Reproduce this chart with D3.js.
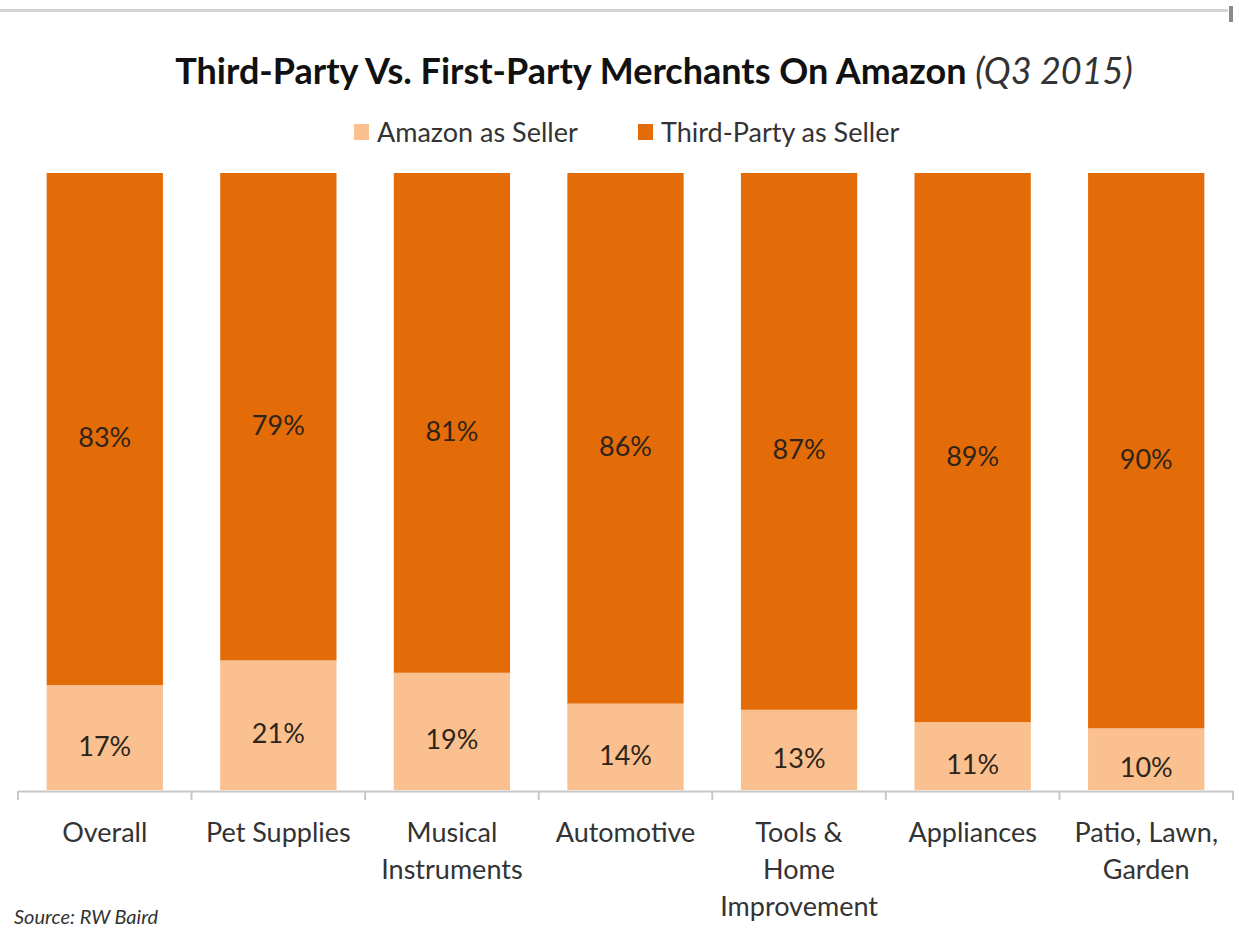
<!DOCTYPE html>
<html>
<head>
<meta charset="utf-8">
<script src="https://cdn.jsdelivr.net/npm/d3@7"></script>
<style>
  html, body { margin: 0; padding: 0; background: #ffffff; }
  svg { display: block; }
</style>
</head>
<body>
<svg id="chart" width="1239" height="936"></svg>
<script>
const categories = ["Overall", "Pet Supplies", "Musical\nInstruments", "Automotive", "Tools &\nHome\nImprovement", "Appliances", "Patio, Lawn,\nGarden"];
const amazonSeller = [17, 21, 19, 14, 13, 11, 10];
const thirdPartySeller = [83, 79, 81, 86, 87, 89, 90];
const seriesNames = ["Amazon as Seller", "Third-Party as Seller"];
const colors = ["#FAC090", "#E36C09"];

const W = 1239, H = 936;
const svg = d3.select("#chart");
const FONT = "Lato, 'Open Sans', sans-serif";

// top frame line
svg.append("rect").attr("x", 0).attr("y", 9).attr("width", 1228).attr("height", 3).attr("fill", "#d4d4d4");
svg.append("rect").attr("x", 1229).attr("y", 6).attr("width", 4).attr("height", 16).attr("fill", "#8a8a8a");

const data = categories.map((c, i) => ({ cat: c, a: amazonSeller[i], t: thirdPartySeller[i] }));

const x = d3.scaleBand().domain(categories).range([18, 1233]).paddingInner(0.33).paddingOuter(0.165);
const y = d3.scaleLinear().domain([0, 100]).range([790, 173]);

const stack = d3.stack().keys(["a", "t"]);
const stacked = stack(data);

const g = svg.append("g");
stacked.forEach((layer, li) => {
  g.append("g").selectAll("rect").data(layer).join("rect")
    .attr("x", d => x(d.data.cat))
    .attr("width", x.bandwidth())
    .attr("y", d => y(d[1]))
    .attr("height", d => y(d[0]) - y(d[1]))
    .attr("fill", colors[li]);
  g.append("g").selectAll("text").data(layer).join("text")
    .attr("x", d => x(d.data.cat) + x.bandwidth() / 2)
    .attr("y", d => (y(d[0]) + y(d[1])) / 2 + 18)
    .attr("text-anchor", "middle")
    .attr("font-family", FONT)
    .attr("font-size", 27)
    .attr("fill", "#2e2419")
    .text(d => Math.round(d[1] - d[0]) + "%");
});

// axis
const axisY = 791;
const axis = d3.axisBottom(x).tickSize(0).tickFormat("");
const axG = svg.append("g").attr("transform", `translate(0,${axisY})`).call(axis);
axG.select(".domain").attr("stroke", "#c8c8c8").attr("stroke-width", 2);
const step = x.step();
const bounds = d3.range(categories.length + 1).map(i => x.range()[0] + i * step);
axG.selectAll(".bound").data(bounds).join("line")
  .attr("class", "bound")
  .attr("x1", d => d).attr("x2", d => d)
  .attr("y1", 0).attr("y2", 9)
  .attr("stroke", "#c8c8c8").attr("stroke-width", 2);

axG.selectAll(".tick").each(function(c) {
  const t = d3.select(this).append("text")
    .attr("text-anchor", "middle")
    .attr("font-family", FONT)
    .attr("font-size", 27)
    .attr("fill", "#333333");
  c.split("\n").forEach((line, i) => {
    t.append("tspan").attr("x", 0).attr("y", 51 + i * 37).text(line);
  });
});

// title
const title = svg.append("text")
  .attr("x", 654).attr("y", 84)
  .attr("text-anchor", "middle")
  .attr("font-family", FONT)
  .attr("font-size", 36)
  .attr("fill", "#111111");
title.append("tspan").attr("font-weight", "bold").text("Third-Party Vs. First-Party Merchants On Amazon ");
title.append("tspan").attr("font-style", "italic").attr("fill", "#333").text("(Q3 2015)");

// legend
const legend = svg.append("g").attr("font-family", FONT).attr("font-size", 27).attr("fill", "#333");
const legendX = [354, 638];
seriesNames.forEach((n, i) => {
  legend.append("rect").attr("x", legendX[i]).attr("y", 124).attr("width", 15).attr("height", 16).attr("fill", colors[i]);
  legend.append("text").attr("x", legendX[i] + 23).attr("y", 142).attr("fill", "#333").text(n);
});

// source
svg.append("text").attr("x", 14).attr("y", 924)
  .attr("font-family", FONT).attr("font-size", 20).attr("font-style", "italic").attr("fill", "#333")
  .text("Source: RW Baird");
</script>
</body>
</html>
